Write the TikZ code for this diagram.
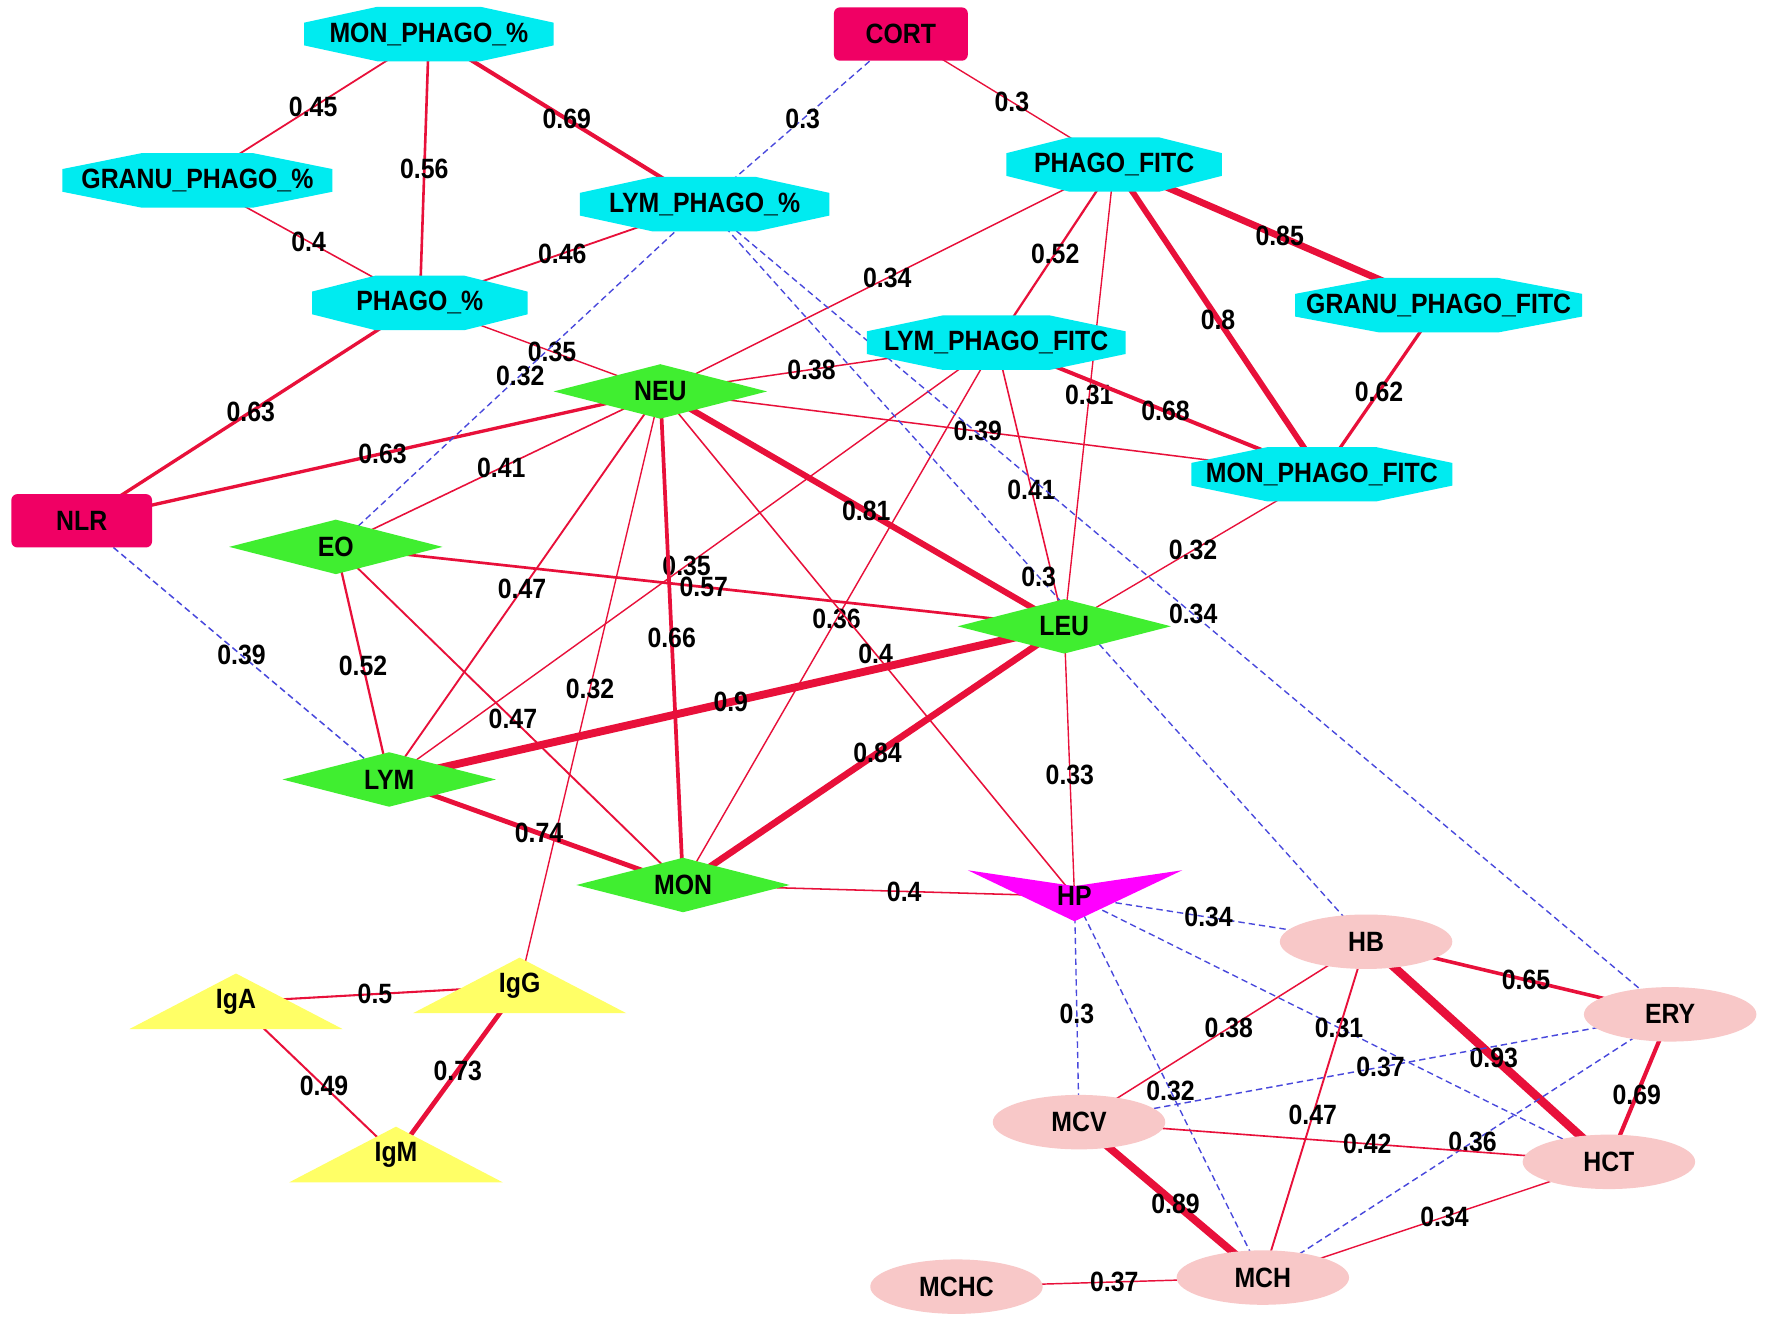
\documentclass[tikz,border=0pt]{standalone}
\usepackage{fontspec}
\setmainfont{Liberation Sans}[FakeStretch=0.89]
\usetikzlibrary{backgrounds}
\definecolor{cyanfill}{RGB}{0,235,240}
\definecolor{cortfill}{RGB}{240,0,100}
\definecolor{greenfill}{RGB}{64,238,48}
\definecolor{magfill}{RGB}{255,0,255}
\definecolor{yelfill}{RGB}{255,255,102}
\definecolor{pinkfill}{RGB}{248,200,200}
\definecolor{redline}{RGB}{232,16,58}
\definecolor{blueline}{RGB}{72,72,220}
\tikzset{
  lab/.style={font=\fontsize{14}{16}\selectfont\bfseries, inner sep=0pt, text=black},
  elab/.style={font=\fontsize{14}{16}\selectfont\bfseries, inner sep=0pt, text=black},
  rededge/.style={draw=redline},
  blueedge/.style={draw=blueline, dash pattern=on 3.2pt off 2pt},
}
\newcommand\octnode[5]{%
  \pgfmathsetmacro\hw{#4/2}\pgfmathsetmacro\cx{0.293*#4}%
  \fill[cyanfill, shift={(#2,#3)}] (-\hw,-10) -- (-\hw+\cx,-24) -- (\hw-\cx,-24) -- (\hw,-10) -- (\hw,10) -- (\hw-\cx,24) -- (-\hw+\cx,24) -- (-\hw,10) -- cycle;
  \node[lab] (#1) at (#2,#3) {#5};}
\newcommand\rectnode[5]{%
  \pgfmathsetmacro\hw{#4/2}%
  \fill[cortfill, rounded corners=3pt, shift={(#2,#3)}] (-\hw,-23.5) rectangle (\hw,23.5);
  \node[lab] (#1) at (#2,#3) {#5};}
\newcommand\dianode[4]{%
  \fill[greenfill, shift={(#2,#3)}] (-94,0) -- (0,-24) -- (94,0) -- (0,24) -- cycle;
  \node[lab] (#1) at (#2,#3) {#4};}
\newcommand\trinode[4]{%
  \fill[yelfill, shift={(#2,#3)}] (0,-25) -- (94,24) -- (-94,24) -- cycle;
  \node[lab] (#1) at (#2,#3) {#4};}
\newcommand\ellnode[4]{%
  \fill[pinkfill] (#2,#3) ellipse [x radius=76, y radius=24];
  \node[lab] (#1) at (#2,#3) {#4};}
\newcommand\edgeR[4]{%
  \pgfmathsetmacro\lw{(1.2+16*(#3-0.3)^2)*0.569}%
  \draw[rededge, line width=\lw pt] (#1.center) -- node[elab, pos=#4] {#3} (#2.center);}
\newcommand\edgeB[4]{%
  \pgfmathsetmacro\lw{(1.2+16*(#3-0.3)^2)*0.569}%
  \draw[blueedge, line width=\lw pt] (#1.center) -- node[elab, pos=#4] {#3} (#2.center);}
\begin{document}
\begin{tikzpicture}[x=0.02cm, y=-0.02cm]
\useasboundingbox (0,0) rectangle (1560,1162);
% ---- nodes ----
\octnode{MONP}{378}{30}{220}{MON\_PHAGO\_\%}
\octnode{GRANP}{174}{159}{238}{GRANU\_PHAGO\_\%}
\octnode{LYMP}{621}{180}{220}{LYM\_PHAGO\_\%}
\octnode{PHAGOP}{370}{267}{190}{PHAGO\_\%}
\octnode{PFITC}{982}{145}{190}{PHAGO\_FITC}
\octnode{GRANF}{1268}{269}{253}{GRANU\_PHAGO\_FITC}
\octnode{LYMF}{878}{302}{228}{LYM\_PHAGO\_FITC}
\octnode{MONF}{1165}{418}{230}{MON\_PHAGO\_FITC}
\rectnode{CORT}{794}{30}{118}{CORT}
\rectnode{NLR}{72}{459}{124}{NLR}
\dianode{NEU}{582}{345}{NEU}
\dianode{EO}{296}{482}{EO}
\dianode{LEU}{938}{552}{LEU}
\dianode{LYM}{343}{687}{LYM}
\dianode{MON}{602}{780}{MON}
\fill[magfill] (853,767) -- (947,781) -- (1042,767) -- (947,812) -- cycle;
\node[lab] (HP) at (947,790) {HP};
\trinode{IgA}{208}{883}{IgA}
\trinode{IgG}{458}{869}{IgG}
\trinode{IgM}{349}{1018}{IgM}
\ellnode{HB}{1204}{830}{HB}
\ellnode{ERY}{1472}{894}{ERY}
\ellnode{MCV}{951}{989}{MCV}
\ellnode{HCT}{1418}{1024}{HCT}
\ellnode{MCH}{1113}{1126}{MCH}
\ellnode{MCHC}{843}{1134}{MCHC}
% ---- edges ----
\begin{pgfonlayer}{background}
\fill[white] (0,0) rectangle (1560,1162);
\edgeR{MONP}{GRANP}{0.45}{0.5}
\edgeR{MONP}{PHAGOP}{0.56}{0.5}
\edgeR{MONP}{LYMP}{0.69}{0.5}
\edgeB{CORT}{LYMP}{0.3}{0.5}
\edgeR{GRANP}{PHAGOP}{0.4}{0.5}
\edgeR{LYMP}{PHAGOP}{0.46}{0.5}
\edgeR{PHAGOP}{NEU}{0.35}{0.55}
\edgeR{PHAGOP}{NLR}{0.63}{0.5}
\edgeR{NLR}{NEU}{0.63}{0.52}
\edgeR{CORT}{PFITC}{0.3}{0.52}
\edgeR{PFITC}{NEU}{0.34}{0.5}
\edgeR{PFITC}{LYMF}{0.52}{0.5}
\edgeR{PFITC}{LEU}{0.31}{0.5}
\edgeR{PFITC}{MONF}{0.8}{0.5}
\edgeR{PFITC}{GRANF}{0.85}{0.51}
\edgeR{GRANF}{MONF}{0.62}{0.51}
\edgeR{NEU}{LYMF}{0.38}{0.45}
\edgeR{LYMF}{MONF}{0.68}{0.52}
\edgeR{LYMF}{LEU}{0.41}{0.52}
\edgeR{LYMF}{LYM}{0.35}{0.51}
\edgeR{LYMF}{MON}{0.36}{0.51}
\edgeR{NEU}{MONF}{0.39}{0.48}
\edgeR{MONF}{LEU}{0.32}{0.5}
\edgeB{LYMP}{EO}{0.32}{0.5}
\edgeR{NEU}{EO}{0.41}{0.49}
\edgeR{NEU}{LEU}{0.81}{0.51}
\edgeR{NEU}{LYM}{0.47}{0.51}
\edgeR{NEU}{MON}{0.66}{0.5}
\edgeR{NEU}{IgG}{0.32}{0.5}
\edgeR{NEU}{HP}{0.4}{0.52}
\edgeR{EO}{LEU}{0.57}{0.505}
\edgeR{EO}{LYM}{0.52}{0.51}
\edgeR{EO}{MON}{0.47}{0.51}
\edgeB{NLR}{LYM}{0.39}{0.52}
\edgeR{LYM}{LEU}{0.9}{0.506}
\edgeR{LYM}{MON}{0.74}{0.51}
\edgeR{MON}{LEU}{0.84}{0.51}
\edgeR{MON}{HP}{0.4}{0.565}
\edgeR{LEU}{HP}{0.33}{0.55}
\edgeB{LYMP}{HB}{0.3}{0.505}
\edgeB{LYMP}{ERY}{0.34}{0.506}
\edgeB{HP}{HB}{0.34}{0.46}
\edgeB{HP}{MCV}{0.3}{0.52}
\edgeB{HP}{MCH}{0.32}{0.51}
\edgeB{HP}{HCT}{0.31}{0.495}
\edgeR{HB}{ERY}{0.65}{0.526}
\edgeR{HB}{HCT}{0.93}{0.526}
\edgeR{HB}{MCV}{0.38}{0.478}
\edgeR{HB}{MCH}{0.47}{0.517}
\edgeR{ERY}{HCT}{0.69}{0.546}
\edgeB{ERY}{MCV}{0.37}{0.49}
\edgeB{ERY}{MCH}{0.36}{0.485}
\edgeR{MCV}{HCT}{0.42}{0.544}
\edgeR{MCV}{MCH}{0.89}{0.525}
\edgeR{HCT}{MCH}{0.34}{0.475}
\edgeR{MCHC}{MCH}{0.37}{0.515}
\edgeR{IgA}{IgG}{0.5}{0.49}
\edgeR{IgA}{IgM}{0.49}{0.55}
\edgeR{IgG}{IgM}{0.73}{0.5}
\end{pgfonlayer}
\end{tikzpicture}
\end{document}
